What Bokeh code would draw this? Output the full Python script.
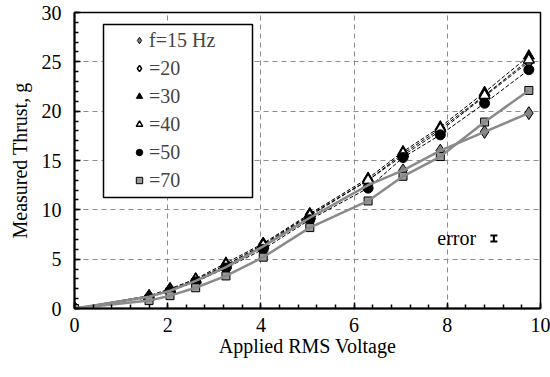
from bokeh.plotting import figure
from bokeh.models import (SingleIntervalTicker, Legend, LegendItem, Range1d,
                          ColumnDataSource, Whisker, TeeHead, BoxAnnotation)
from bokeh.embed import file_html
from bokeh.resources import INLINE
from bokeh.core.properties import value

voltage = [0, 1.6, 2.05, 2.6, 3.25, 4.05, 5.05, 6.3, 7.05, 7.85, 8.8, 9.75]
thrust_15 = [0, 1.2, 1.8, 2.8, 4.2, 6.3, 9.2, 12.5, 14.0, 16.0, 17.9, 19.8]
thrust_20 = [0, 1.2, 1.9, 2.9, 4.4, 6.5, 9.5, 13.0, 15.5, 18.0, 21.5, 25.0]
thrust_30 = [0, 1.3, 2.0, 3.0, 4.6, 6.6, 9.6, 13.2, 15.9, 18.4, 21.9, 25.6]
thrust_40 = [0, 1.2, 1.9, 2.9, 4.4, 6.4, 9.4, 13.0, 15.7, 18.2, 21.6, 25.2]
thrust_50 = [0, 1.1, 1.8, 2.7, 4.1, 6.0, 9.0, 12.2, 15.3, 17.6, 20.8, 24.2]
thrust_70 = [0, 0.8, 1.3, 2.1, 3.3, 5.2, 8.2, 10.9, 13.4, 15.4, 18.9, 22.1]
labels = ["f=15 Hz", "=20", "=30", "=40", "=50", "=70"]

error_x = [9.0]
error_y = [7.1]
error_half = [0.3]

FONT = "Liberation Serif"
FS = "20px"

p = figure(frame_width=466, frame_height=296, width=550, height=377,
           output_backend="svg", toolbar_location=None,
           x_range=Range1d(0, 10), y_range=Range1d(0, 30),
           min_border_left=74, min_border_right=10, min_border_top=12, min_border_bottom=69)
p.background_fill_color = "white"
p.border_fill_color = "white"
p.outline_line_color = "black"
p.outline_line_width = 1.5

p.xaxis.ticker = SingleIntervalTicker(interval=2, num_minor_ticks=5)
p.yaxis.ticker = SingleIntervalTicker(interval=5, num_minor_ticks=5)
p.axis.axis_line_color = "black"
p.axis.axis_line_width = 2
p.axis.major_tick_in = 6
p.axis.major_tick_out = 0
p.axis.minor_tick_in = 4
p.axis.minor_tick_out = 0
p.axis.major_tick_line_width = 1.5
p.axis.minor_tick_line_width = 1.5
p.axis.major_label_text_font = "Times New Roman"
p.axis.major_label_text_font_style = "normal"
p.axis.major_label_text_font_size = FS
p.axis.major_label_text_color = "black"
p.axis.axis_label_text_font = FONT
p.axis.axis_label_text_font_size = FS
p.axis.axis_label_text_font_style = "normal"
p.axis.axis_label_text_color = "black"
p.xaxis.axis_label = "Applied RMS Voltage"
p.yaxis.axis_label = "Measured Thrust, g"
p.xaxis.major_label_standoff = 9
p.yaxis.major_label_standoff = 13
p.xaxis.axis_label_standoff = 0
p.yaxis.axis_label_standoff = 8

p.grid.grid_line_color = "#8c8c8c"
p.grid.grid_line_dash = "5 4"
p.grid.grid_line_width = 1

# dashed black fit lines
for ys in (thrust_20, thrust_30, thrust_40, thrust_50):
    p.line(voltage, ys, line_color="black", line_dash="4 2", line_width=1)

r15 = p.scatter(voltage, thrust_15, marker="diamond", size=13, fill_color="#808080", line_color="black", line_width=1)
r20 = p.scatter(voltage, thrust_20, marker="diamond", size=13, fill_color="white", line_color="black", line_width=1.5)
r30 = p.scatter(voltage, thrust_30, marker="triangle", size=11, fill_color="black", line_color="black")
r40 = p.scatter(voltage, thrust_40, marker="triangle", size=11, fill_color="white", line_color="black", line_width=1.5)
r50 = p.scatter(voltage, thrust_50, marker="circle", size=10, fill_color="black", line_color="black")
r70 = p.scatter(voltage, thrust_70, marker="square", size=8, fill_color="#999999", line_color="black", line_width=1)

# gray solid lines
p.line(voltage, thrust_15, line_color="#8a8a8a", line_width=2.5)
p.line(voltage, thrust_70, line_color="#8a8a8a", line_width=2.5)

# error indicator
src = ColumnDataSource(dict(x=error_x, lo=[y - h for y, h in zip(error_y, error_half)],
                            hi=[y + h for y, h in zip(error_y, error_half)], y=error_y))
w = Whisker(base="x", lower="lo", upper="hi", source=src, dimension="height",
            line_color="black", line_width=2,
            upper_head=TeeHead(size=7, line_width=2, line_color="black"),
            lower_head=TeeHead(size=7, line_width=2, line_color="black"))
p.add_layout(w)
p.text(x=[error_x[0] - 0.38], y=error_y, text=["error"], text_align="right",
       text_baseline="middle", text_font=value(FONT), text_font_size=FS, text_color="black")

# legend frame
box = BoxAnnotation(left=29, right=178, bottom=111, top=284,
                    left_units="screen", right_units="screen",
                    bottom_units="screen", top_units="screen",
                    fill_color="white", fill_alpha=1,
                    line_color="black", line_alpha=1, line_width=1.5, level="annotation")
p.add_layout(box)

items = [LegendItem(label=l, renderers=[r]) for l, r in
         zip(labels, [r15, r20, r30, r40, r50, r70])]
legend = Legend(items=items, location=(53, 112), padding=4, spacing=4,
                glyph_width=16, glyph_height=24, label_height=24,
                label_standoff=2,
                label_text_font=FONT, label_text_font_size=FS,
                border_line_alpha=0, background_fill_alpha=0,
                margin=0)
p.add_layout(legend, "center")

open("out.html", "w").write(file_html(p, INLINE))
